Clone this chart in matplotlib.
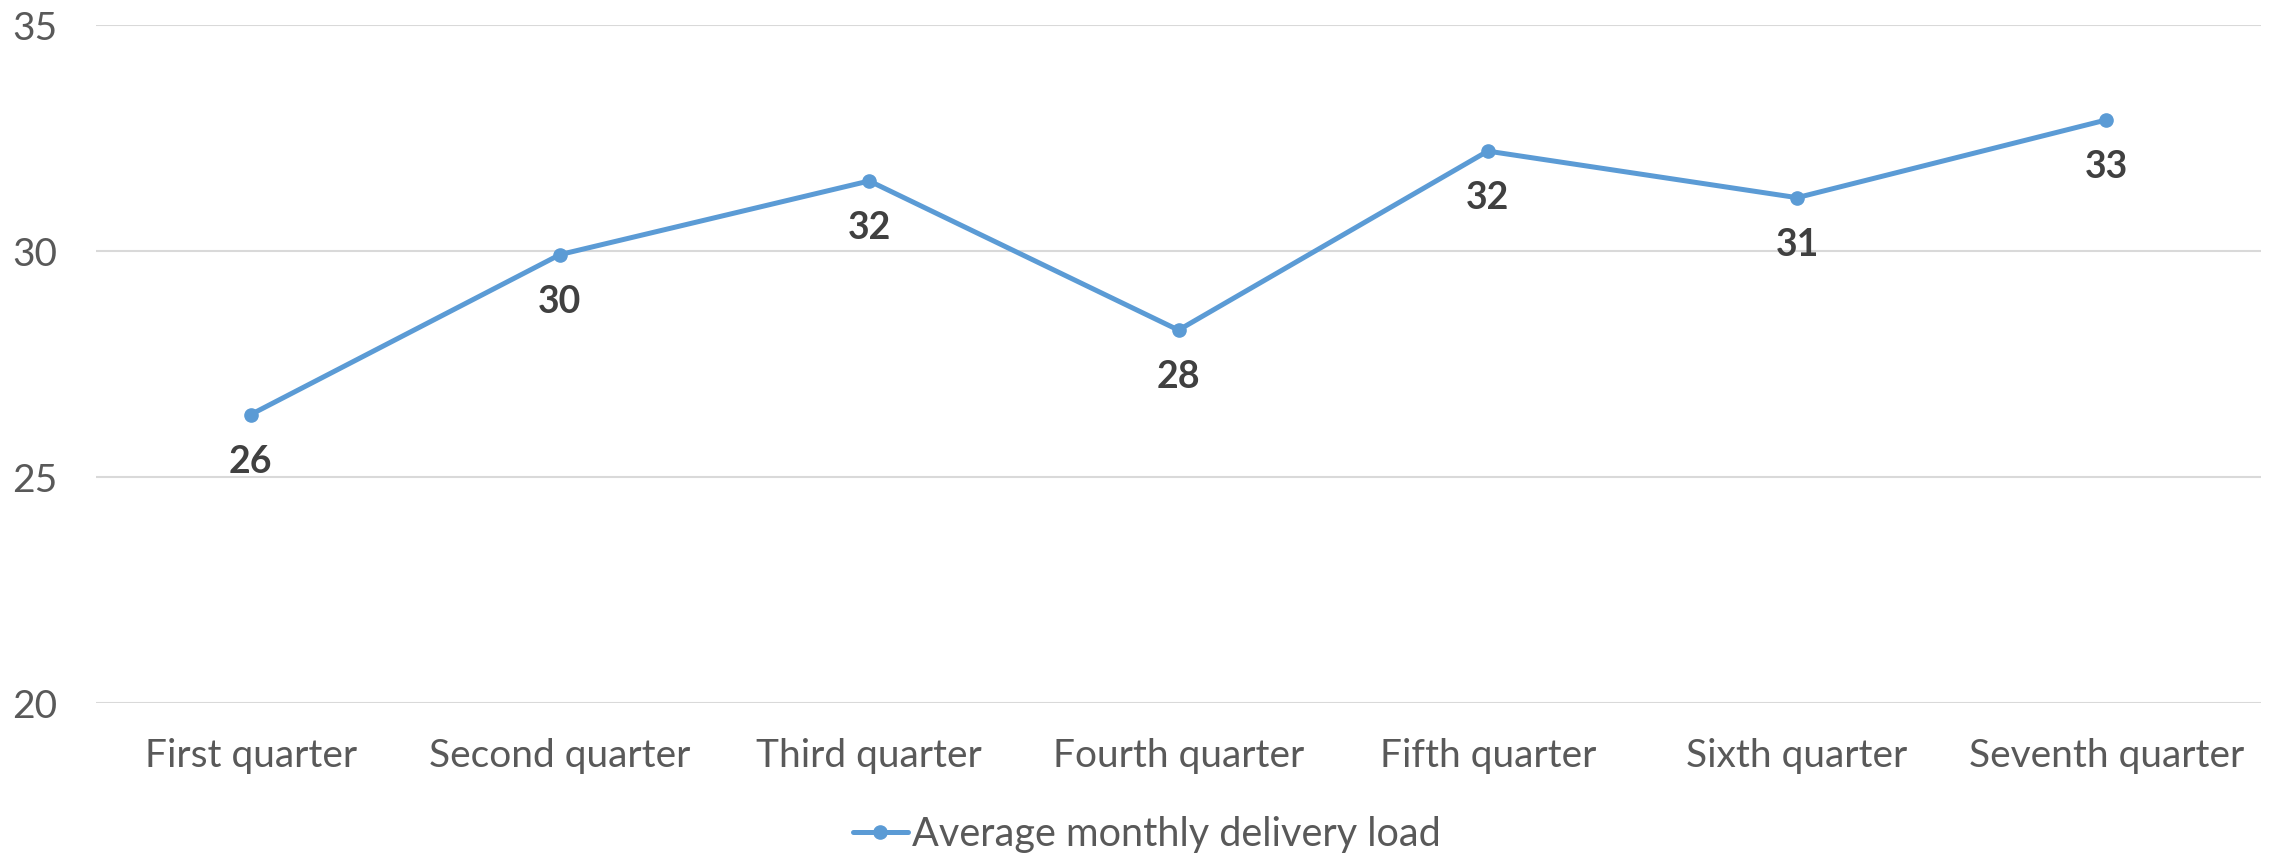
import matplotlib
matplotlib.use("Agg")
import matplotlib.pyplot as plt

categories = ["First quarter", "Second quarter", "Third quarter", "Fourth quarter",
              "Fifth quarter", "Sixth quarter", "Seventh quarter"]
values = [26.38, 29.92, 31.55, 28.25, 32.21, 31.18, 32.9]
series_name = "Average monthly delivery load"
yticks = [20, 25, 30, 35]

plt.rcParams['font.family'] = ['Lato', 'DejaVu Sans']

W, H, DPI = 2275, 855, 100
fig = plt.figure(figsize=(W / DPI, H / DPI), dpi=DPI)
ax = fig.add_axes([96 / W, 1 - 703 / H, (2261 - 96) / W, (703 - 25) / H])

x = list(range(len(categories)))
line_color = "#5B9BD5"
ax.plot(x, values, color=line_color, lw=3.6, marker="o", ms=9.5,
        label=series_name, zorder=3, solid_capstyle="round")

for xi, v in zip(x, values):
    ax.annotate(f"{v:.0f}", (xi, v), xytext=(0, -34), textcoords="offset points",
                ha="center", va="center", fontsize=27, fontweight="bold",
                color="#404040")

ax.set_xlim(-0.5, len(categories) - 0.5)
ax.set_ylim(20, 35)
ax.set_yticks(yticks)
ax.set_xticks(x)
ax.set_xticklabels(categories)
ax.grid(axis="y", color="#d9d9d9", lw=1.5)
ax.set_axisbelow(True)
for s in ax.spines.values():
    s.set_visible(False)
ax.tick_params(axis="both", length=0, colors="#595959", labelsize=28)
ax.tick_params(axis="x", pad=25)
ax.tick_params(axis="y", pad=28)

fig.legend(loc="center", bbox_to_anchor=(0.504, 1 - 834 / H), frameon=False,
           fontsize=28.5, labelcolor="#595959", handlelength=1.4, handletextpad=0.1,
           borderaxespad=0)

fig.savefig("out.png", dpi=DPI)
